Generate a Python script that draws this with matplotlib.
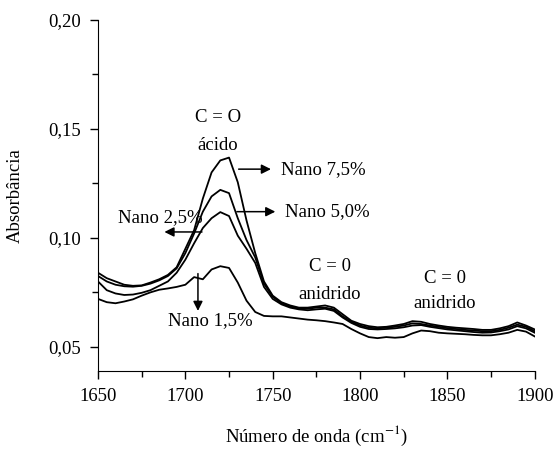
import matplotlib
matplotlib.use('Agg')
import matplotlib.pyplot as plt
from matplotlib.ticker import MultipleLocator, FuncFormatter

plt.rcParams['font.family'] = ['Liberation Serif', 'DejaVu Serif']
plt.rcParams['mathtext.fontset'] = 'stix'

# wave number grid (cm-1)
wavenumber = [1650, 1655, 1660, 1665, 1670, 1675, 1680, 1685, 1690, 1695,
              1700, 1705, 1710, 1715, 1720, 1725, 1730, 1735, 1740, 1745,
              1750, 1755, 1760, 1765, 1770, 1775, 1780, 1785, 1790, 1795,
              1800, 1805, 1810, 1815, 1820, 1825, 1830, 1835, 1840, 1845,
              1850, 1855, 1860, 1865, 1870, 1875, 1880, 1885, 1890, 1895, 1900]

nano_75 = [0.0840, 0.0815, 0.0800, 0.0785, 0.0780, 0.0782, 0.0795, 0.0810, 0.0830, 0.0865,
           0.0950, 0.1035, 0.1180, 0.1300, 0.1355, 0.1368, 0.1255, 0.1080, 0.0930, 0.0800,
           0.0735, 0.0705, 0.0690, 0.0680, 0.0680, 0.0685, 0.0690, 0.0680, 0.0650, 0.0620,
           0.0605, 0.0595, 0.0590, 0.0592, 0.0598, 0.0605, 0.0618, 0.0615, 0.0605, 0.0598,
           0.0592, 0.0588, 0.0585, 0.0582, 0.0578, 0.0578, 0.0585, 0.0595, 0.0612, 0.0598, 0.0580]

nano_50 = [0.0825, 0.0800, 0.0785, 0.0778, 0.0776, 0.0780, 0.0790, 0.0805, 0.0825, 0.0860,
           0.0930, 0.1020, 0.1120, 0.1190, 0.1220, 0.1205, 0.1090, 0.0990, 0.0910, 0.0790,
           0.0730, 0.0700, 0.0685, 0.0675, 0.0675, 0.0680, 0.0680, 0.0672, 0.0640, 0.0615,
           0.0598, 0.0588, 0.0585, 0.0588, 0.0592, 0.0598, 0.0608, 0.0605, 0.0598, 0.0592,
           0.0586, 0.0582, 0.0578, 0.0575, 0.0572, 0.0572, 0.0578, 0.0588, 0.0602, 0.0592, 0.0572]

nano_25 = [0.0800, 0.0760, 0.0745, 0.0738, 0.0740, 0.0748, 0.0760, 0.0780, 0.0800, 0.0840,
           0.0900, 0.0975, 0.1045, 0.1090, 0.1118, 0.1100, 0.1010, 0.0950, 0.0885, 0.0775,
           0.0720, 0.0695, 0.0680, 0.0672, 0.0668, 0.0672, 0.0675, 0.0665, 0.0635, 0.0610,
           0.0592, 0.0582, 0.0580, 0.0582, 0.0585, 0.0590, 0.0598, 0.0600, 0.0592, 0.0586,
           0.0580, 0.0576, 0.0572, 0.0568, 0.0565, 0.0566, 0.0572, 0.0580, 0.0595, 0.0585, 0.0565]

nano_15 = [0.0720, 0.0705, 0.0700, 0.0708, 0.0718, 0.0735, 0.0750, 0.0762, 0.0768, 0.0775,
           0.0785, 0.0820, 0.0810, 0.0855, 0.0870, 0.0862, 0.0795, 0.0712, 0.0660, 0.0642,
           0.0640, 0.0640, 0.0635, 0.0630, 0.0625, 0.0622, 0.0618, 0.0612, 0.0605, 0.0582,
           0.0562, 0.0545, 0.0540, 0.0545, 0.0542, 0.0545, 0.0562, 0.0575, 0.0572, 0.0565,
           0.0562, 0.0560, 0.0558, 0.0555, 0.0553, 0.0553, 0.0558, 0.0565, 0.0578, 0.0570, 0.0548]

fig = plt.figure(figsize=(5.57, 4.49), dpi=100)
ax = fig.add_axes([0.176, 0.174, 0.784, 0.782])

for serie in [nano_75, nano_50, nano_25, nano_15]:
    ax.plot(wavenumber, serie, color='black', linewidth=1.3)

ax.set_xlim(1650, 1900)
ax.set_ylim(0.039, 0.20)
ax.xaxis.set_major_locator(MultipleLocator(50))
ax.xaxis.set_minor_locator(MultipleLocator(25))
ax.yaxis.set_major_locator(MultipleLocator(0.05))
ax.yaxis.set_minor_locator(MultipleLocator(0.025))
ax.yaxis.set_major_formatter(FuncFormatter(lambda v, p: ('%.2f' % v).replace('.', ',')))
ax.spines['top'].set_visible(False)
ax.spines['right'].set_visible(False)
ax.tick_params(axis='both', which='major', direction='out', length=6, width=1, labelsize=13.5, pad=6)
ax.tick_params(axis='both', which='minor', direction='out', length=4, width=1)

ax.set_xlabel('Número de onda (cm$^{-1}$)', fontsize=13.5)
ax.set_ylabel('Absorbância', fontsize=13.5)
ax.xaxis.set_label_coords(0.5, -0.15)
ax.yaxis.set_label_coords(-0.17, 0.5)

# annotations
fs = 13.5
ax.text(1718.7, 0.1553, 'C = O', ha='center', va='center', fontsize=fs)
ax.text(1718.7, 0.1425, 'ácido', ha='center', va='center', fontsize=fs)
ax.text(1782.7, 0.0868, 'C = 0', ha='center', va='center', fontsize=fs)
ax.text(1782.7, 0.0740, 'anidrido', ha='center', va='center', fontsize=fs)
ax.text(1848.5, 0.0813, 'C = 0', ha='center', va='center', fontsize=fs)
ax.text(1848.5, 0.0699, 'anidrido', ha='center', va='center', fontsize=fs)

arrow = dict(arrowstyle='-|>', color='black', lw=1.1, mutation_scale=14, shrinkA=0, shrinkB=0)
ax.annotate('', xy=(1749, 0.1315), xytext=(1730.5, 0.1315), arrowprops=arrow)
ax.text(1755, 0.1315, 'Nano 7,5%', ha='left', va='center', fontsize=fs)
ax.annotate('', xy=(1751.5, 0.1120), xytext=(1729.5, 0.1120), arrowprops=arrow)
ax.text(1757, 0.1120, 'Nano 5,0%', ha='left', va='center', fontsize=fs)
ax.annotate('', xy=(1688, 0.1027), xytext=(1709.5, 0.1027), arrowprops=arrow)
ax.text(1710, 0.1091, 'Nano 2,5%', ha='right', va='center', fontsize=fs)
ax.annotate('', xy=(1707.2, 0.0665), xytext=(1707.2, 0.0836), arrowprops=arrow)
ax.text(1714, 0.0621, 'Nano 1,5%', ha='center', va='center', fontsize=fs)

fig.savefig('out.png', dpi=100)
